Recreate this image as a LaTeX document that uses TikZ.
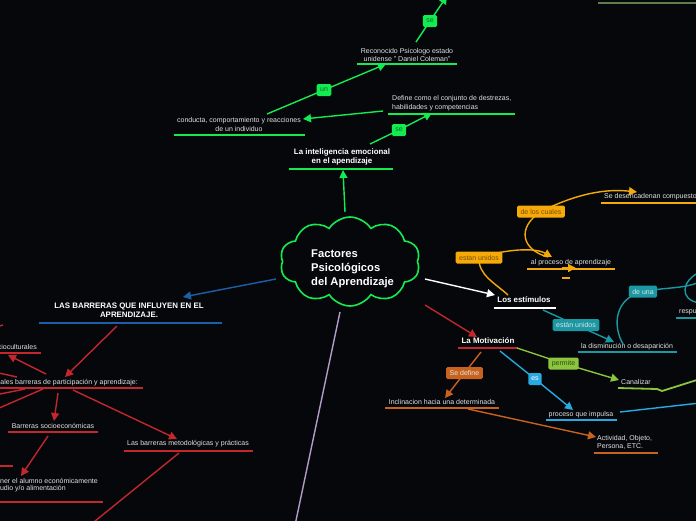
\documentclass[tikz,border=0pt]{standalone}
\usepackage{fontspec}
\setmainfont{Liberation Sans}
\usetikzlibrary{arrows.meta,shapes.symbols}
\pgfdeclarelayer{backg}
\pgfdeclarelayer{edges}
\pgfsetlayers{backg,edges,main}
\definecolor{bgc}{HTML}{05070A}
\definecolor{txtc}{HTML}{E2E2E2}
\definecolor{gr}{HTML}{14EB50}
\definecolor{grd}{HTML}{0A6A2A}
\definecolor{bd}{HTML}{1C5FA8}
\definecolor{rd}{HTML}{C1272D}
\definecolor{pu}{HTML}{B49BC9}
\definecolor{orc}{HTML}{F5AA0A}
\definecolor{ord}{HTML}{7A4E00}
\definecolor{te}{HTML}{1A98A4}
\definecolor{lg}{HTML}{8CC63F}
\definecolor{lgd}{HTML}{2F4A10}
\definecolor{lb}{HTML}{29A9E1}
\definecolor{br}{HTML}{C9621E}
\definecolor{ol}{HTML}{5E7F4A}
\begin{document}
\begin{tikzpicture}[x=1pt,y=-1pt,
  txt/.style={text=txtc,font=\fontsize{7}{8.7}\selectfont,inner sep=0pt,align=center},
  btxt/.style={text=white,font=\bfseries\fontsize{7.9}{9.2}\selectfont,inner sep=0pt,align=center},
  lbl/.style={rounded corners=1.5pt,inner xsep=3.5pt,inner ysep=0pt,minimum height=12pt,font=\fontsize{7}{8}\selectfont},
  ul/.style={line width=1.8pt},
  ln/.style={line width=1.4pt},
  con/.style={line width=1.4pt,-{Triangle[length=8pt,width=8pt]}}]
\useasboundingbox (0,0) rectangle (696,520);
\begin{pgfonlayer}{backg}
\fill[bgc] (-5,-5) rectangle (701,525);
\end{pgfonlayer}

% ---------- central cloud
\node[cloud,draw=gr,line width=1.6pt,cloud puffs=10,cloud puff arc=115,aspect=1.6,
      minimum width=140pt,minimum height=89pt,inner sep=0pt] (cloud) at (350,261.5) {};
\node[text=white,font=\bfseries\fontsize{11.2}{14}\selectfont,align=left,inner sep=0pt,anchor=west] (ctext) at (311,269) {Factores\\Psicológicos\\del Aprendizaje};

% ---------- green branch
\node[btxt] (ie) at (342,157) {La inteligencia emocional\\en el apendizaje};
\node[txt,align=left,anchor=west] (def) at (392,103.5) {Define como el conjunto de destrezas,\\habilidades y competencias};
\node[txt] (cond) at (239,124.5) {conducta, comportamiento y reacciones\\de un individuo};
\node[txt] (rec) at (407,55) {Reconocido Psicologo estado\\unidense " Daniel Coleman"};
\node[lbl,fill=gr,text=grd] (se1) at (399,130) {se};
\node[lbl,fill=gr,text=grd] (un) at (324,90) {un};
\node[lbl,fill=gr,text=grd] (se2) at (430,21) {se};
\coordinate (c0) at (345,212);
\coordinate (ie-in) at (343,170);
\coordinate (ie-out) at (370,144);
\coordinate (def-in) at (432,113);
\coordinate (def-out) at (383,111);
\coordinate (cond-in) at (303,119);
\coordinate (cond-out) at (267,114);
\coordinate (rec-in) at (386,64);
\coordinate (rec-out) at (416,42);
\coordinate (top-in) at (447,-4);
\coordinate (ol-a) at (598,3);
\coordinate (ol-b) at (700,3);

% ---------- left (barriers)
\node[btxt] (lbar) at (129,310.5) {LAS BARRERAS QUE INFLUYEN EN EL\\APRENDIZAJE.};
\node[txt,anchor=east] (pb) at (138,383) {Principales barreras de participación y aprendizaje:};
\node[txt,anchor=east] (sc) at (37,347) {Barreras socioculturales};
\node[txt] (sec) at (53,426) {Barreras socioeconómicas};
\node[txt,anchor=east] (al1) at (98,481) {tener el alumno económicamente};
\node[txt,anchor=east] (al2) at (66,489) {estudio y/o alimentación};
\node[txt] (met) at (188,444) {Las barreras metodológicas y prácticas};
\coordinate (c1) at (276,279);
\coordinate (lb-in) at (183,297);
\coordinate (lb-out) at (117,326);
\coordinate (pb-in) at (65,377);
\coordinate (pb-o1) at (46,374);
\coordinate (sc-in) at (8,355);
\coordinate (pb-o2) at (58,393);
\coordinate (sec-in) at (54,421);
\coordinate (sec-out) at (48,436);
\coordinate (al-in) at (21,476);
\coordinate (pb-o3) at (73,390);
\coordinate (met-in) at (177,439);
\coordinate (met-out) at (179,453);
\coordinate (met-far) at (84,530);
\coordinate (x1a) at (-10,371);  \coordinate (x1b) at (17,377);
\coordinate (x2a) at (-10,396);  \coordinate (x2b) at (25,389);
\coordinate (x3a) at (-10,412);  \coordinate (x3b) at (43,389);
\coordinate (x4a) at (-4,327);   \coordinate (x4b) at (3,325);

% ---------- purple
\coordinate (c3) at (340,312);
\coordinate (pu-far) at (294,530);

% ---------- right side
\node[btxt] (le) at (524,300) {Los estímulos};
\node[btxt] (mo) at (488,341) {La Motivación};
\node[txt] (ap) at (571,263) {al proceso de aprendizaje};
\node[txt,anchor=west] (sd) at (604,197) {Se desencadenan compuestos};
\node[txt] (di) at (627,347) {la disminución o desaparición};
\node[txt,anchor=west] (re) at (679,312) {respuesta};
\node[txt] (ca) at (636,382) {Canalizar};
\node[txt] (pq) at (581,414.5) {proceso que impulsa};
\node[txt] (inc) at (442,402) {Inclinacion hacia una determinada};
\node[txt,align=left,anchor=west] (act) at (597,442.5) {Actividad, Objeto,\\Persona, ETC.};
\node[lbl,fill=orc,text=ord] (eu) at (479,257.5) {estan unidos};
\node[lbl,fill=orc,text=ord] (dc) at (541,211.5) {de los cuales};
\node[lbl,fill=te,text=txtc] (eu2) at (576,325) {están unidos};
\node[lbl,fill=te,text=txtc] (du) at (643,291.5) {de una};
\node[lbl,fill=lg,text=lgd] (pe) at (563.5,363.5) {permite};
\node[lbl,fill=lb,text=white,inner xsep=3pt] (es) at (535,379) {es};
\node[lbl,fill=br,text=txtc] (sdf) at (464.5,373) {Se define};
\coordinate (c4) at (425,279);
\coordinate (le-in) at (495,295);
\coordinate (c2) at (425,305);
\coordinate (mo-in) at (477,337);
\coordinate (le-o1) at (508,295);
\coordinate (ap-in) at (552,257);
\coordinate (ap-out) at (548,257);
\coordinate (sd-in) at (637,192);
\coordinate (ap-a0) at (562,268);
\coordinate (ap-a1) at (576,268);
\coordinate (le-o2) at (543,310);
\coordinate (di-in) at (614,342);
\coordinate (di-out) at (623,344);
\coordinate (du-far) at (700,282);
\coordinate (lp-a) at (700,272);
\coordinate (lp-b) at (700,303);
\coordinate (mo-o1) at (517,348);
\coordinate (ca-in) at (619,380);
\coordinate (mo-o2) at (500,351);
\coordinate (pq-in) at (573,410);
\coordinate (pq-out) at (620,412);
\coordinate (pq-far) at (700,403);
\coordinate (mo-o3) at (481,352);
\coordinate (inc-in) at (445,398);
\coordinate (inc-out) at (468,409);
\coordinate (act-in) at (596,437);

\begin{pgfonlayer}{edges}
% green
\draw[con,gr] (c0) -- (ie-in);
\draw[ln,gr] (ie-out) -- (se1.center);
\draw[con,gr] (se1.center) -- (def-in);
\draw[con,gr] (def-out) -- (cond-in);
\draw[ln,gr] (cond-out) -- (un.center);
\draw[con,gr] (un.center) -- (rec-in);
\draw[ln,gr] (rec-out) -- (se2.center);
\draw[con,gr] (se2.center) -- (top-in);
\draw[ul,gr] (289,169) -- (393,169);
\draw[ul,gr] (388,114) -- (515,114);
\draw[ul,gr] (174,135) -- (305,135);
\draw[ul,gr] (357,64) -- (457,64);
\draw[ul,ol] (ol-a) -- (ol-b);
% blue / red left
\draw[con,bd] (c1) -- (lb-in);
\draw[ul,bd] (39,323) -- (222,323);
\draw[con,rd] (lb-out) -- (pb-in);
\draw[ul,rd] (-5,388) -- (143,388);
\draw[con,rd] (pb-o1) -- (sc-in);
\draw[ul,rd] (-5,353) -- (41,353);
\draw[ln,rd] (x1a) -- (x1b);
\draw[ln,rd] (x2a) -- (x2b);
\draw[ln,rd] (x3a) -- (x3b);
\draw[ln,rd] (x4a) -- (x4b);
\draw[con,rd] (pb-o2) -- (sec-in);
\draw[ul,rd] (8,432) -- (98,432);
\draw[con,rd] (sec-out) -- (al-in);
\draw[ul,rd] (-5,502) -- (103,502);
\draw[ul,rd] (-5,466) -- (13,466);
\draw[con,rd] (pb-o3) -- (met-in);
\draw[ul,rd] (124,451) -- (253,451);
\draw[ln,rd] (met-out) -- (met-far);
% purple
\draw[ln,pu] (c3) -- (pu-far);
% white / motivation
\draw[con,white] (c4) -- (le-in);
\draw[ul,white] (494,308) -- (556,308);
\draw[con,rd] (c2) -- (mo-in);
\draw[ul,rd] (458,348) -- (518,348);
% orange
\draw[ln,orc] (le-o1) .. controls (495,283) and (478,275) .. (eu.center);
\draw[con,orc] (eu.center) .. controls (515,247) and (538,249) .. (ap-in);
\draw[ul,orc] (527,269) -- (615,269);
\draw[ln,orc] (ap-out) .. controls (522,250) and (516,228) .. (dc.center);
\draw[con,orc] (dc.center) .. controls (570,197) and (600,188) .. (sd-in);
\draw[ul,orc] (601,203) -- (700,203);
\draw[con,orc] (ap-a0) -- (ap-a1);
\draw[ul,orc] (562,278) -- (570,278);
% teal
\draw[ln,te] (le-o2) -- (eu2.center);
\draw[con,te] (eu2.center) -- (di-in);
\draw[ul,te] (578,352) -- (677,352);
\draw[ln,te] (di-out) .. controls (612,325) and (615,298) .. (du.center);
\draw[ln,te] (du.center) .. controls (668,287) and (682,289) .. (du-far);
\draw[ln,te] (lp-a) .. controls (682,280) and (678,300) .. (lp-b);
\draw[ul,te] (676,318) -- (700,318);
% light green
\draw[ln,lg] (mo-o1) -- (pe.center);
\draw[con,lg] (pe.center) -- (ca-in);
\draw[ul,lg] (618,388) -- (657,389) -- (662,391) -- (700,379);
% light blue
\draw[ln,lb] (mo-o2) -- (es.center);
\draw[con,lb] (es.center) -- (pq-in);
\draw[ul,lb] (546,420) -- (617,420);
\draw[ln,lb] (pq-out) -- (pq-far);
% brown
\draw[ln,br] (mo-o3) -- (sdf.center);
\draw[con,br] (sdf.center) -- (inc-in);
\draw[ul,br] (385,408) -- (499,408);
\draw[con,br] (inc-out) -- (act-in);
\draw[ul,br] (594,453) -- (658,453);
\end{pgfonlayer}
\end{tikzpicture}
\end{document}
